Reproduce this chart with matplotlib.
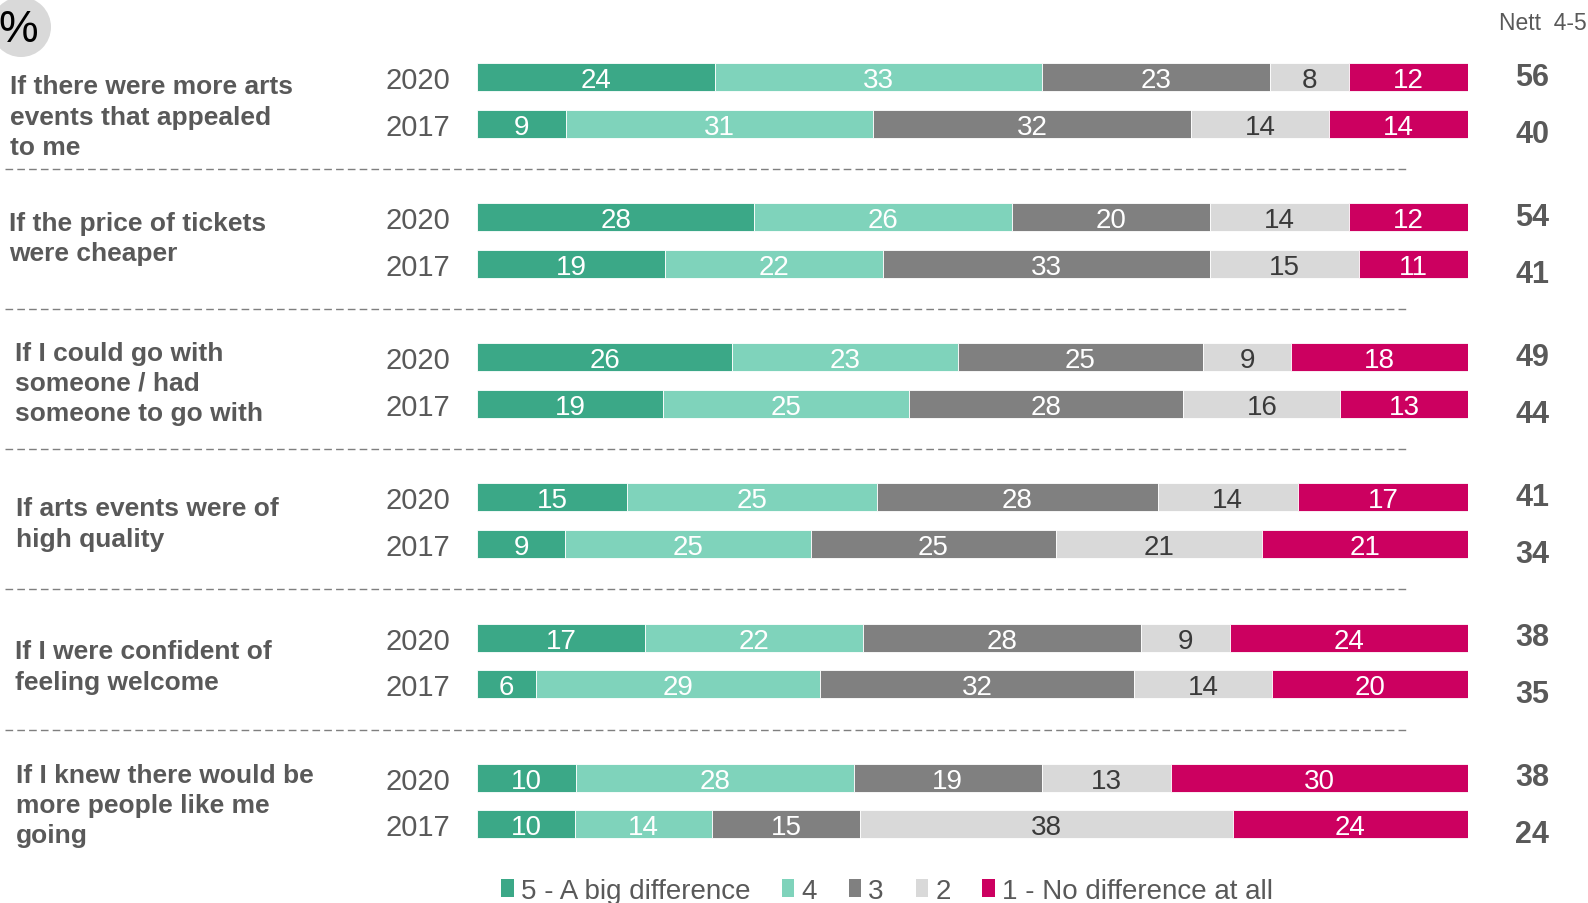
import numpy as np
import matplotlib
matplotlib.use("Agg")
import matplotlib.pyplot as plt
import matplotlib.transforms as mtransforms
from matplotlib.patches import Patch, Circle

plt.rcParams["font.family"] = ["Liberation Sans", "DejaVu Sans"]

# ---- data -------------------------------------------------------------
categories = [
    "If there were more arts\nevents that appealed\nto me",
    "If the price of tickets\nwere cheaper",
    "If I could go with\nsomeone / had\nsomeone to go with",
    "If arts events were of\nhigh quality",
    "If I were confident of\nfeeling welcome",
    "If I knew there would be\nmore people like me\ngoing",
]
years = ["2020", "2017"]
levels = ["5 - A big difference", "4", "3", "2", "1 - No difference at all"]

values_2020 = [
    [24, 33, 23, 8, 12],
    [28, 26, 20, 14, 12],
    [26, 23, 25, 9, 18],
    [15, 25, 28, 14, 17],
    [17, 22, 28, 9, 24],
    [10, 28, 19, 13, 30],
]
values_2017 = [
    [9, 31, 32, 14, 14],
    [19, 22, 33, 15, 11],
    [19, 25, 28, 16, 13],
    [9, 25, 25, 21, 21],
    [6, 29, 32, 14, 20],
    [10, 14, 15, 38, 24],
]
nett_2020 = [56, 54, 49, 41, 38, 38]
nett_2017 = [40, 41, 44, 34, 35, 24]

# ---- styling ------------------------------------------------------------
colors = ["#3BA887", "#7FD3BB", "#808080", "#D9D9D9", "#CC0060"]
label_colors = ["white", "white", "white", "#3A3A3A", "white"]
text_grey = "#595959"

W, H = 1588, 904
fig = plt.figure(figsize=(W / 100, H / 100), dpi=100)

# bar axes: x in percent, y in row units (one row = 46.7 px)
unit = 46.71
top_px = 78
x0_px, x1_px = 477, 1468
ax = fig.add_axes([x0_px / W, 0, (x1_px - x0_px) / W, 1])
ax.set_xlim(0, 100)
ax.set_ylim((H - top_px) / unit, -top_px / unit)
ax.axis("off")

bar_h = 0.6
label_dy = [0.35, -0.05, 0.05, 0.06, 0.12, 0.09]
label_x = [10, 9, 15, 16, 15, 16]

fig_x = mtransforms.blended_transform_factory(fig.transFigure, ax.transData)

for g, cat in enumerate(categories):
    rows = [values_2020[g], values_2017[g]]
    netts = [nett_2020[g], nett_2017[g]]
    for k, (yr, vals) in enumerate(zip(years, rows)):
        pos = g * 3 + k
        vals = np.array(vals, dtype=float)
        shares = vals / vals.sum() * 100
        left = 0.0
        for i, (v, s) in enumerate(zip(vals, shares)):
            ax.barh(pos, s, left=left, height=bar_h, color=colors[i],
                    edgecolor="white", linewidth=0.6)
            ax.text(left + s / 2, pos, f"{int(v)}", ha="center",
                    va="center_baseline", color=label_colors[i], fontsize=20)
            left += s
        ax.text(-2.7, pos, yr, ha="right", va="center_baseline",
                color=text_grey, fontsize=21, clip_on=False)
        ax.text(1532 / W, pos + (-0.08 if k == 0 else 0.14), f"{netts[k]}",
                transform=fig_x, ha="center", va="center_baseline",
                color=text_grey, fontsize=22, fontweight="bold")
    ax.text(label_x[g] / W, g * 3 + 0.5 + label_dy[g], cat, transform=fig_x,
            ha="left", va="center", color=text_grey, fontsize=19,
            fontweight="bold", linespacing=1.33)
    if g < len(categories) - 1:
        ax.plot([5 / W, 1408 / W], [g * 3 + 1.97] * 2, transform=fig_x,
                color="#7F7F7F", lw=1.0, linestyle=(0, (5.5, 3)),
                clip_on=False)

# overlay in pixel units for the header items
ov = fig.add_axes([0, 0, 1, 1], zorder=-1)
ov.set_xlim(0, W)
ov.set_ylim(H, 0)
ov.axis("off")
ov.add_patch(Circle((21, 28), 30, color="#D9D9D9", lw=0))
ov.text(18, 31, "%", ha="center", va="center", fontsize=32, color="black")
ov.text(1543, 23, "Nett  4-5", ha="center", va="center", fontsize=16.5,
        color=text_grey)

handles = [Patch(facecolor=c, edgecolor="none") for c in colors]
fig.legend(handles, levels, loc="center", bbox_to_anchor=(887 / W, 1 - 892 / H),
           ncol=5, frameon=False, fontsize=20, labelcolor=text_grey,
           handlelength=0.45, handleheight=0.6, handletextpad=0.25,
           columnspacing=1.15, borderpad=0)

fig.savefig("out.png", dpi=100)
